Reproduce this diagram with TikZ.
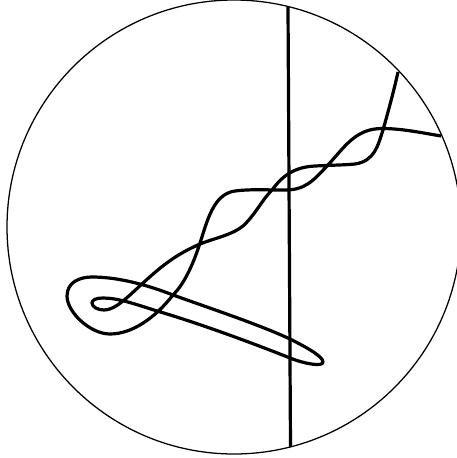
\documentclass[tikz,border=0pt]{standalone}
\begin{document}
\begin{tikzpicture}[
    x=0.75pt, y=-0.75pt,
    rim/.style={draw, line width=0.95pt},
    strand/.style={draw, line width=2.4pt, line join=round}
]
\useasboundingbox (0,0) rectangle (457,458);
\clip (0,0) rectangle (457,458);
\draw[rim] (234,227) circle[radius=227];
\draw[strand] (288,7) -- (290.5,447);
% knot
\draw[strand] (441,136) .. controls (418,132) and (400,128.5) .. (382,128.5)
    .. controls (355,128.5) and (344,148) .. (327,166)
    .. controls (313,181) and (305,190) .. (285,190)
    .. controls (265,190) and (250,189) .. (235,191)
    .. controls (213,194) and (207,222) .. (200,243)
    .. controls (192,268) and (183,285) .. (173,295)
    .. controls (155,318) and (132,334) .. (110,334)
    .. controls (90,334) and (67,312) .. (67,296)
    .. controls (67,282) and (80,277) .. (92,277)
    .. controls (120,277) and (150,286) .. (173,295)
    .. controls (215,310) and (260,325) .. (290,339)
    .. controls (310,349) and (323,357) .. (323,362)
    .. controls (323,367) and (305,364) .. (290,358)
    .. controls (250,342) and (195,322) .. (157,311)
    .. controls (135,304) and (118,298) .. (103,298)
    .. controls (96,298) and (92,300) .. (92,303)
    .. controls (92,307) and (98,310) .. (104,310)
    .. controls (113,310) and (122,302) .. (130,295)
    .. controls (155,272) and (170,257) .. (200,244)
    .. controls (215,238) and (232,235) .. (243,226)
    .. controls (255,215) and (262,200) .. (272,190)
    .. controls (283,175) and (295,167) .. (315,166)
    .. controls (335,165) and (345,165) .. (355,164)
    .. controls (375,161) and (378,145) .. (383,130)
    .. controls (390,105) and (394,90) .. (398,72);
\end{tikzpicture}
\end{document}
